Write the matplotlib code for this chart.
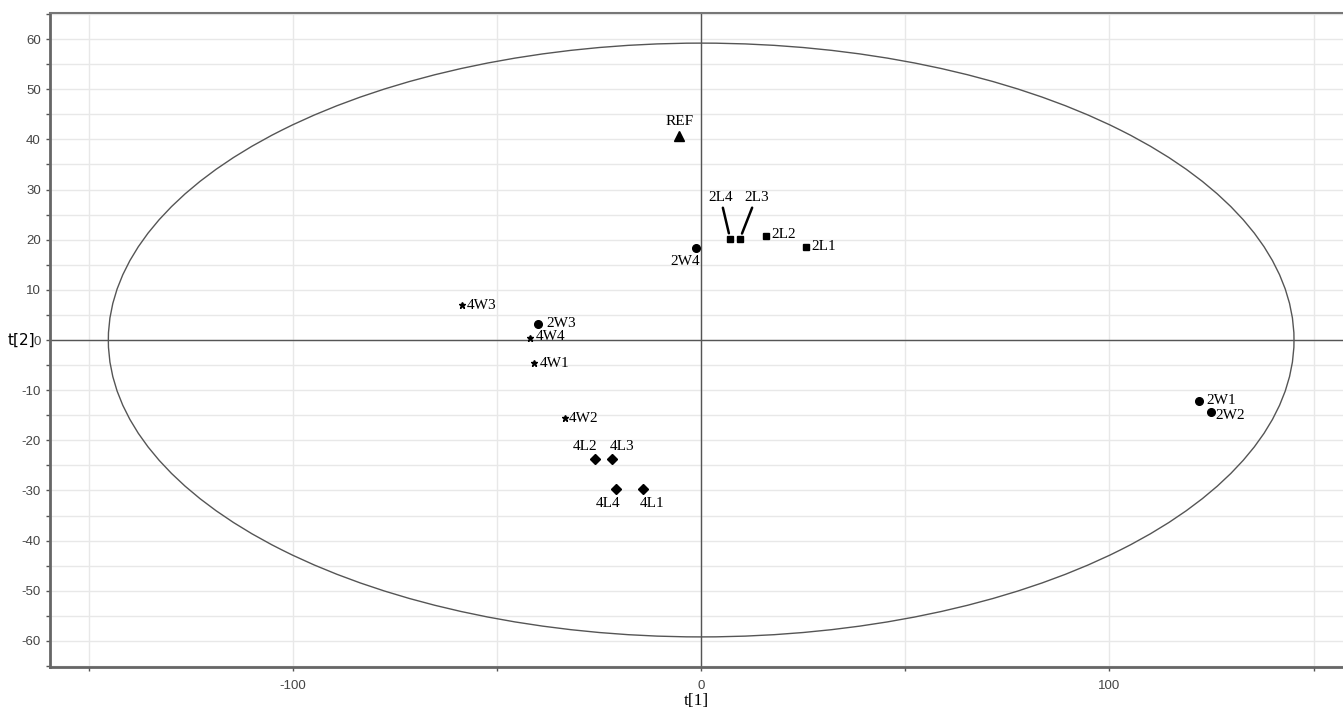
import numpy as np
import matplotlib
matplotlib.use("Agg")
import matplotlib.pyplot as plt
from matplotlib.patches import Ellipse

plt.rcParams["axes.unicode_minus"] = False

# score plot t[1] vs t[2]
names_w2 = ["2W1", "2W2", "2W3", "2W4"]
t1_w2 = [121.9, 124.8, -39.9, -1.2]
t2_w2 = [-12.1, -14.4, 3.2, 18.4]

names_l2 = ["2L1", "2L2", "2L3", "2L4"]
t1_l2 = [25.7, 15.9, 9.5, 7.1]
t2_l2 = [18.6, 20.8, 20.2, 20.2]

names_w4 = ["4W1", "4W2", "4W3", "4W4"]
t1_w4 = [-40.9, -33.3, -58.5, -41.9]
t2_w4 = [-4.6, -15.6, 6.9, 0.4]

names_l4 = ["4L1", "4L2", "4L3", "4L4"]
t1_l4 = [-14.2, -25.9, -21.8, -20.8]
t2_l4 = [-29.7, -23.8, -23.8, -29.7]

ref_t1 = [-5.4]
ref_t2 = [40.6]

# Hotelling T2 ellipse semi-axes
ell_a = 145.2
ell_b = 59.2

# label offsets in pixels (dx, dy, ha, va)
offsets = {
    "REF": (0, 8, "center", "bottom"),
    "2W1": (7, 0, "left", "center"),
    "2W2": (5, -3, "left", "center"),
    "2W3": (8, 0, "left", "center"),
    "2W4": (-11, -7, "center", "top"),
    "2L1": (5, 0, "left", "center"),
    "2L2": (5, 1, "left", "center"),
    "4W1": (6, 0, "left", "center"),
    "4W2": (4, 0, "left", "center"),
    "4W3": (4, 0, "left", "center"),
    "4W4": (6, 2, "left", "center"),
    "4L1": (9, -8, "center", "top"),
    "4L2": (-10, 6, "center", "bottom"),
    "4L3": (10, 6, "center", "bottom"),
    "4L4": (-8, -8, "center", "top"),
}

fig = plt.figure(figsize=(13.43, 7.12), dpi=100)
ax = fig.add_axes([0.0372, 0.0632, 0.9628, 0.9185])

ax.set_xlim(-159.5, 157.2)
ax.set_ylim(-65.2, 65.2)

ax.set_xticks(np.arange(-150, 151, 50))
ax.set_xticklabels(["", "-100", "", "0", "", "100", ""])
ax.set_yticks(np.arange(-60, 61, 10))
ax.set_yticks(np.arange(-65, 66, 10), minor=True)
ax.grid(True, which="both", color="#e8e8e8", lw=1)
ax.set_axisbelow(True)

ax.tick_params(axis="both", which="both", length=3, width=1, color="#555555",
               labelcolor="#444444", labelsize=9.5, direction="out")
ax.tick_params(axis="x", pad=6)
for lab in ax.get_xticklabels() + ax.get_yticklabels():
    lab.set_family("Liberation Sans")

for s in ["left", "bottom"]:
    ax.spines[s].set_color("#666666")
    ax.spines[s].set_linewidth(2)
ax.spines["top"].set_color("#777777")
ax.spines["top"].set_linewidth(1.5)
ax.spines["right"].set_visible(False)

ax.axhline(0, color="#555555", lw=1, zorder=1)
ax.axvline(0, color="#555555", lw=1, zorder=1)

ax.add_patch(Ellipse((0, 0), 2 * ell_a, 2 * ell_b, fill=False,
                     edgecolor="#555555", lw=1, zorder=2))

ax.plot(t1_w2, t2_w2, "o", color="black", ms=5.5, zorder=3)
ax.plot(t1_l2, t2_l2, "s", color="black", ms=5, zorder=3)
ax.plot(t1_w4, t2_w4, "*", color="black", ms=4.5, zorder=3)
ax.plot(t1_l4, t2_l4, "D", color="black", ms=5.5, zorder=3)
ax.plot(ref_t1, ref_t2, "^", color="black", ms=7, zorder=3)

all_names = names_w2 + names_l2 + names_w4 + names_l4 + ["REF"]
all_t1 = t1_w2 + t1_l2 + t1_w4 + t1_l4 + ref_t1
all_t2 = t2_w2 + t2_l2 + t2_w4 + t2_l4 + ref_t2
for n, x, y in zip(all_names, all_t1, all_t2):
    if n not in offsets:
        continue
    dx, dy, ha, va = offsets[n]
    ax.annotate(n, (x, y), xytext=(dx, dy), textcoords="offset pixels",
                ha=ha, va=va, fontsize=11, family="Liberation Serif")

# the two crowded squares get leader lines
for n, x, y, tx in [("2L4", 7.1, 20.2, 4.7), ("2L3", 9.5, 20.2, 13.5)]:
    ax.annotate(n, (x, y), xytext=(tx, 27.2),
                textcoords="data", ha="center", va="bottom", fontsize=11,
                family="Liberation Serif",
                arrowprops=dict(arrowstyle="-", color="black", lw=1.8,
                                shrinkA=1, shrinkB=4))

ax.set_xlabel("t[1]", family="Liberation Serif", fontsize=12.5, labelpad=1)
ax.set_ylabel("t[2]", fontsize=11, rotation=0, va="center")
ax.yaxis.set_label_coords(-0.022, 0.5)

fig.savefig("out.png", dpi=100)
